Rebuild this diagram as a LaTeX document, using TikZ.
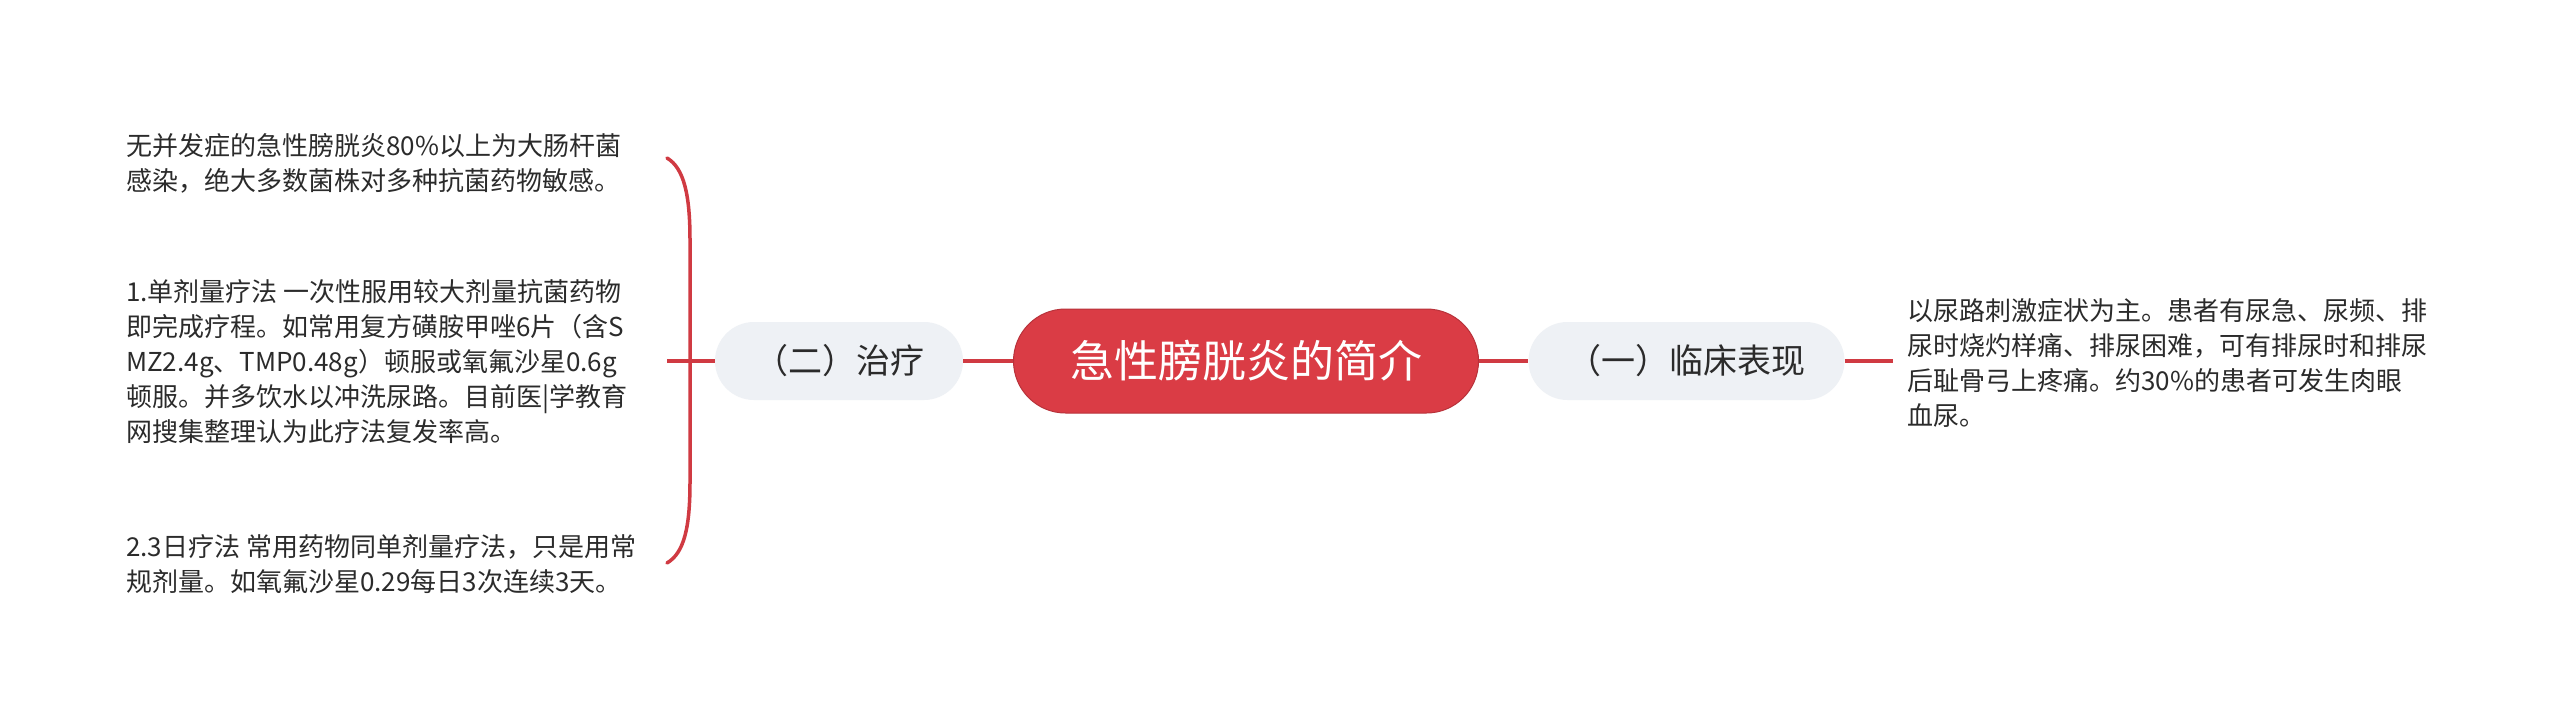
\documentclass[tikz,border=0pt]{standalone}
\usepackage{fontspec}
\setmainfont{Noto Sans CJK SC}
\usepackage{tikz}
\usetikzlibrary{positioning}
\definecolor{rootred}{HTML}{DA3C45}
\definecolor{rootedge}{HTML}{B8323A}
\definecolor{linkred}{HTML}{D03A42}
\definecolor{topicgray}{HTML}{EEF1F5}
\definecolor{inkgray}{HTML}{2B2B2B}

\begin{document}
\begin{tikzpicture}[x=1pt, y=-1pt,
  root/.style={rectangle, rounded corners=52pt, fill=rootred, draw=rootedge, line width=1pt,
    minimum width=465pt, minimum height=104pt, text=white, font=\fontsize{44}{52}\selectfont},
  topic/.style={rectangle, rounded corners=39pt, fill=topicgray, inner xsep=39pt,
    minimum height=78pt, text=inkgray, font=\fontsize{34}{40}\selectfont},
  note/.style={align=left, inner ysep=0pt, text=inkgray, font=\fontsize{26}{35}\selectfont},
  link/.style={draw=linkred, line width=3.5pt}]
%%% background / size %%%
\useasboundingbox[fill=white] (0,0) rectangle (2560,723);

      \node[root] (root) at (1246,361) {急性膀胱炎的简介};
      %%
      \node[topic] (clin) at (1686.5,361) {（一）临床表现};
      \node[topic] (treat) at (839,361) {（二）治疗};
      %% notes: placed by the baseline of their last line
      \node[note, inner xsep=14pt, anchor=base west] (symptom) at (1893,425)
        {以尿路刺激症状为主。患者有尿急、尿频、排\\
         尿时烧灼样痛、排尿困难，可有排尿时和排尿\\
         后耻骨弓上疼痛。约30\%的患者可发生肉眼\\
         血尿。};
      %%
      \node[note, inner xsep=0pt, anchor=base west] (cause) at (126,190)
        {无并发症的急性膀胱炎80\%以上为大肠杆菌\\
         感染，绝大多数菌株对多种抗菌药物敏感。};
      \node[note, inner xsep=0pt, anchor=base west] (single) at (126,441)
        {1.单剂量疗法 一次性服用较大剂量抗菌药物\\
         即完成疗程。如常用复方磺胺甲唑6片（含S\\
         MZ2.4g、TMP0.48g）顿服或氧氟沙星0.6g\\
         顿服。并多饮水以冲洗尿路。目前医|学教育\\
         网搜集整理认为此疗法复发率高。};
      \node[note, inner xsep=0pt, anchor=base west] (threeday) at (126,591)
        {2.3日疗法 常用药物同单剂量疗法，只是用常\\
         规剂量。如氧氟沙星0.29每日3次连续3天。};
      %%
      \coordinate (fork) at (667,361);
      \coordinate (bracetop) at (667,158);
      \coordinate (bracebot) at (667,563);

      %% connectors
      \draw[link] (root) -- (clin);
      \draw[link] (root) -- (treat);
      \draw[link] (clin.east) -- (clin.east -| symptom.west);
      \draw[link] (treat.west) -- (fork);
      \draw[link, line cap=round] (bracetop) .. controls (684,168) and (690,195) .. (690,240)
        -- (690,482) .. controls (690,528) and (684,553) .. (bracebot);
;

\end{tikzpicture}
\end{document}
